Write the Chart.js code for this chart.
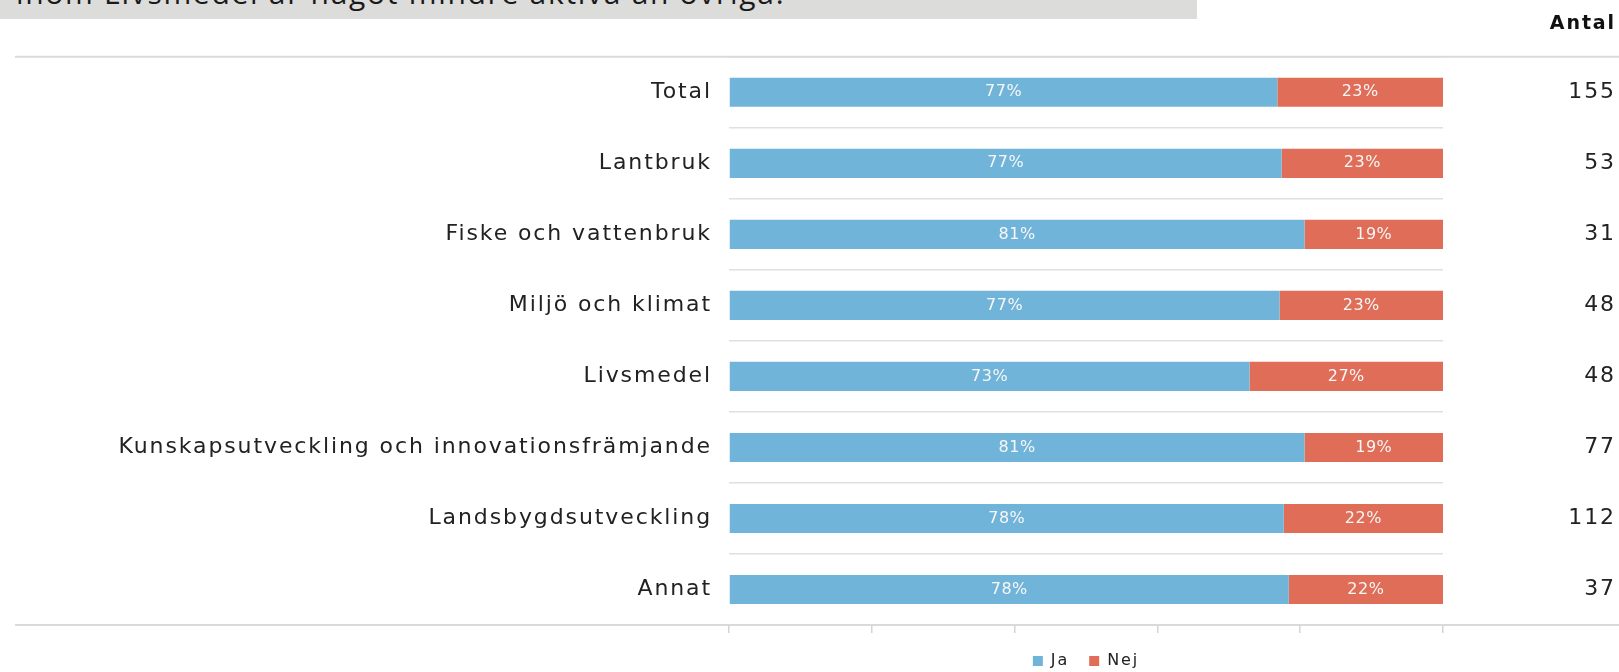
<!DOCTYPE html>
<html>
<head>
<meta charset="utf-8">
<script src="https://cdn.jsdelivr.net/npm/chart.js@4.4.1/dist/chart.umd.min.js"></script>
<style>
  html, body { margin: 0; padding: 0; background: #fff; }
  #wrap { position: relative; width: 1619px; height: 672px; overflow: hidden; }
  #chart { position: absolute; left: 0; top: 0; }
  .heading { position: absolute; left: 0; top: 0; width: 1197px; height: 19px; background: #dcdcdb; overflow: hidden; }
  .heading span { position: absolute; left: 16px; top: -22px; font: 30px/30px "Open Sans"; color: #1a1a1a; white-space: nowrap; letter-spacing: 1.7px; }
</style>
</head>
<body>
<div id="wrap">
  <canvas id="chart" width="1619" height="672"></canvas>
  <div class="heading"><span>inom Livsmedel är något mindre aktiva än övriga.</span></div>
</div>
<script>
// Data
const categories = [
  'Total',
  'Lantbruk',
  'Fiske och vattenbruk',
  'Miljö och klimat',
  'Livsmedel',
  'Kunskapsutveckling och innovationsfrämjande',
  'Landsbygdsutveckling',
  'Annat'
];
const jaValues  = [76.8, 77.4, 80.6, 77.1, 72.9, 80.6, 77.7, 78.4];
const nejValues = [23.2, 22.6, 19.4, 22.9, 27.1, 19.4, 22.3, 21.6];
const antalLabels = ['155', '53', '31', '48', '48', '77', '112', '37'];

const FONT = '"DejaVu Sans", "Open Sans", sans-serif';
const SPACING = '1.9px';

// canvas letter spacing (the original font is wide and airy)
const spacing = {
  id: 'spacing',
  beforeUpdate(chart) { chart.ctx.letterSpacing = SPACING; },
  beforeDraw(chart) { chart.ctx.letterSpacing = SPACING; }
};

// full width lines on top and bottom of the table
const tableLines = {
  id: 'tableLines',
  afterDraw(chart) {
    const { ctx, chartArea } = chart;
    ctx.save();
    ctx.strokeStyle = '#dadada';
    ctx.lineWidth = 2;
    [chartArea.top, chartArea.bottom].forEach(y => {
      ctx.beginPath();
      ctx.moveTo(15, y);
      ctx.lineTo(chart.width, y);
      ctx.stroke();
    });
    ctx.restore();
  }
};

// percentage labels in the middle of each bar segment
const barLabels = {
  id: 'barLabels',
  afterDatasetsDraw(chart) {
    const ctx = chart.ctx;
    ctx.save();
    ctx.font = '16px ' + FONT;
    ctx.letterSpacing = '0.5px';
    ctx.fillStyle = '#f7f7f7';
    ctx.textAlign = 'center';
    ctx.textBaseline = 'middle';
    chart.data.datasets.forEach((ds, i) => {
      chart.getDatasetMeta(i).data.forEach((bar, j) => {
        const { x, y, base } = bar.getProps(['x', 'y', 'base'], true);
        ctx.fillText(Math.round(ds.data[j]) + '%', (x + base) / 2, y);
      });
    });
    ctx.restore();
  }
};

// keep the axis widths fixed and stop tick padding from pushing the plot inwards
function pinWidth(w) {
  return scale => {
    scale.width = w;
    scale.paddingTop = 0;
    scale.paddingBottom = 0;
  };
}

new Chart(document.getElementById('chart'), {
  type: 'bar',
  data: {
    labels: categories,
    datasets: [
      { label: 'Ja', data: jaValues, backgroundColor: '#71b4da' },
      { label: 'Nej', data: nejValues, backgroundColor: '#e06d57' }
    ]
  },
  options: {
    indexAxis: 'y',
    responsive: false,
    animation: false,
    layout: { padding: { top: 0, right: 3, bottom: -7, left: 0 } },
    datasets: { bar: { categoryPercentage: 1, barPercentage: 0.41 } },
    scales: {
      x: {
        stacked: true,
        min: 0,
        max: 100,
        ticks: { display: false, stepSize: 20 },
        grid: { drawOnChartArea: false, drawTicks: true, tickLength: 8, color: '#d4d4d4', lineWidth: 1.5 },
        border: { color: '#dadada', width: 2 }
      },
      y: {
        stacked: true,
        grid: { color: '#e0e0e0', lineWidth: 1.5, drawTicks: false },
        border: { display: false },
        ticks: { padding: 17, color: '#222', font: { family: FONT, size: 22 } },
        afterFit: pinWidth(729)
      },
      y2: {
        type: 'category',
        position: 'right',
        labels: antalLabels,
        offset: true,
        grid: { display: false },
        border: { display: false },
        ticks: { crossAlign: 'far', padding: 132, color: '#222', font: { family: FONT, size: 22 } },
        afterFit: pinWidth(173)
      }
    },
    plugins: {
      title: {
        display: true,
        text: 'Antal',
        align: 'end',
        color: '#111',
        font: { family: FONT, size: 19, weight: 'bold' },
        padding: { top: 13, bottom: 21 }
      },
      legend: {
        position: 'bottom',
        fullSize: false,
        labels: { boxWidth: 10, boxHeight: 10, padding: 20, color: '#222', font: { family: FONT, size: 16 } }
      },
      tooltip: { enabled: false }
    }
  },
  plugins: [spacing, tableLines, barLabels]
});
</script>
</body>
</html>
